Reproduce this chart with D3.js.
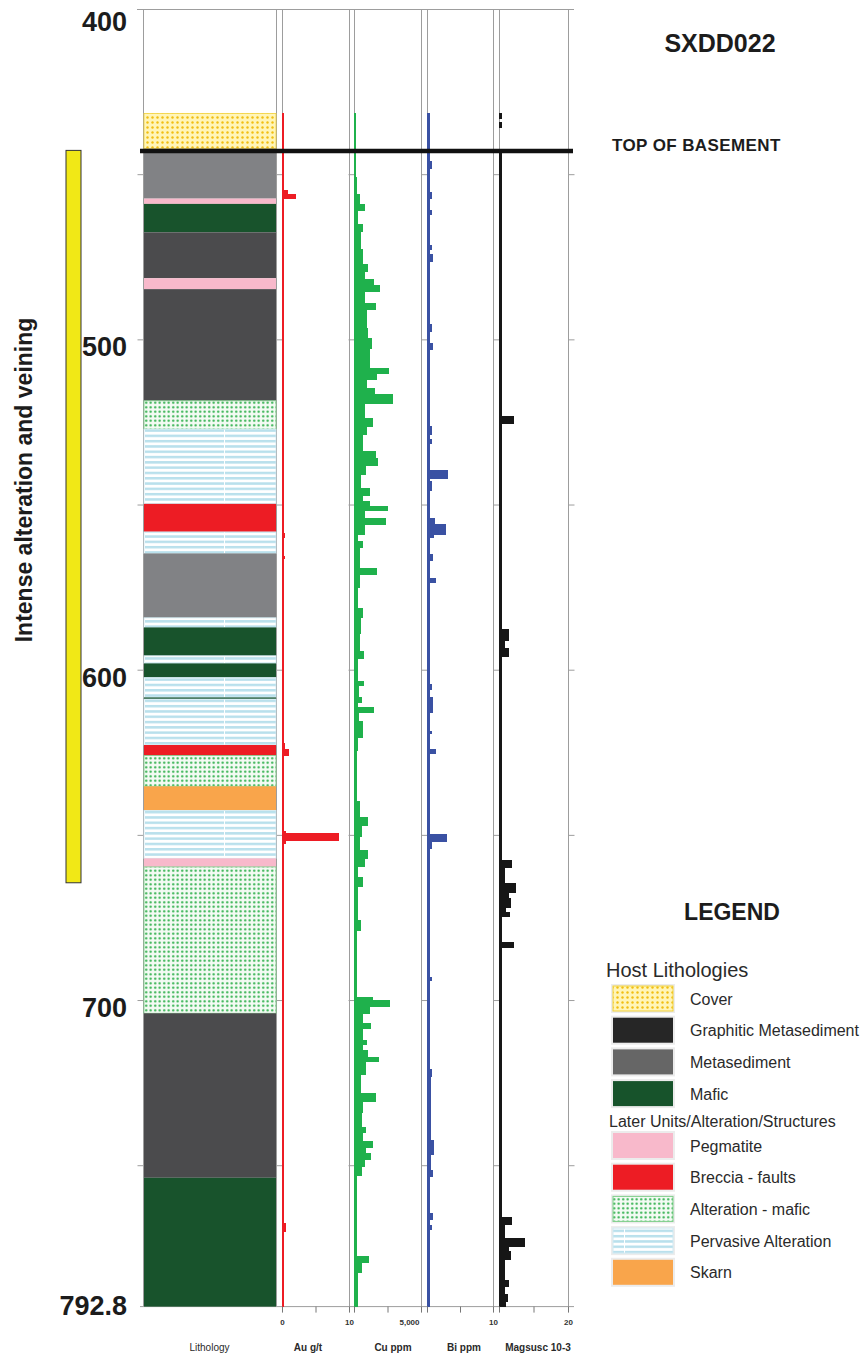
<!DOCTYPE html>
<html>
<head>
<meta charset="utf-8">
<title>SXDD022 drill log</title>
<script src="https://d3js.org/d3.v7.min.js"></script>
<style>
  body { margin: 0; background: #fff; }
  text { font-family: "Liberation Sans", Arial, sans-serif; }
</style>
</head>
<body>
<script>
// ---- data (depths in metres down hole) ----
var holeName = "SXDD022";
var depthLabels = [400, 500, 600, 700, 792.8];
var basementDepth = 443.0;
var alterationZone = [442.8, 664.5];

// lithology intervals: breaks[i] -> breaks[i+1] has code[i]
var lithBreaks = [431.6, 442.3, 457.4, 459, 467.6, 481.5, 484.8, 518.6, 527.2, 549.8, 558.3, 564.8, 584.3, 587.2,
  595.8, 598.1, 602.4, 608.4, 608.9, 622.8, 626, 635.3, 642.6, 657.1, 659.7, 704, 753.8, 792.8];
var lithCodes = ["cover", "meta", "peg", "mafic", "graph", "peg", "graph", "alt", "perv", "brec", "perv", "meta", "perv",
  "mafic", "perv", "mafic", "perv", "mafic", "perv", "brec", "alt", "skarn", "perv", "peg", "alt", "graph", "mafic"];

// Au g/t
var auBreaks = [431.6, 454.7, 455.9, 457.4, 558.6, 560.1, 565.6, 566.5, 622.3, 623.9, 626, 648.8, 649.5, 651.7, 652.7, 767.4, 770.1, 792.8];
var auValues = [0.3, 0.9, 2.1, 0.3, 0.45, 0.3, 0.45, 0.3, 0.5, 1.05, 0.3, 0.6, 8.5, 0.6, 0.3, 0.6, 0.3];

// Cu ppm
var cuBreaks = [431.6, 451, 456, 459, 461, 465, 467.5, 472.5, 477.3, 479.5, 481.6, 483.4, 485.5, 489.1, 490.9, 496.7,
  499.7, 502.7, 508.8, 510.3, 512.1, 514.8, 516.6, 519.4, 523.8, 526.3, 528.8, 533.8, 536, 538.4, 540.9, 544.9,
  547.4, 548.9, 550.5, 552, 554, 556, 559, 561, 563, 569.1, 571.1, 575.1, 581.2, 584.2, 589.2, 594.3, 596.8,
  603.3, 604.8, 608.4, 609.9, 611.4, 612.9, 615.4, 620.5, 624.5, 633.5, 639.6, 644.6, 647.1, 650.7, 654.7,
  657.2, 659.7, 662.8, 665.8, 675.8, 678.9, 699, 700, 702, 704, 707, 708.6, 712.1, 713.6, 715.1, 717.1, 718.7,
  722.7, 728.2, 730.7, 734.2, 738.3, 740.3, 742.8, 744.8, 746.3, 748.3, 750.3, 753.3, 777.6, 779.6, 782.6, 792.8];
var cuValues = [150, 220, 450, 830, 300, 680, 530, 680, 1050, 830, 1500, 1950, 830, 1650, 980, 1050, 1350, 1200,
  2630, 1730, 980, 1580, 2930, 830, 1430, 980, 680, 1650, 1800, 900, 530, 1200, 680, 1200, 2550, 830, 2400, 830,
  300, 680, 450, 1730, 450, 300, 680, 530, 450, 750, 300, 750, 380, 600, 300, 1500, 380, 680, 300, 190, 220, 450,
  1050, 600, 450, 1050, 830, 300, 680, 300, 530, 220, 1430, 2700, 1200, 680, 1280, 680, 980, 680, 1050, 1880, 900,
  530, 1650, 680, 600, 900, 680, 1430, 900, 1280, 830, 600, 220, 1130, 600, 300];

// Bi ppm
var biBreaks = [431.6, 446, 448.3, 455.3, 457.4, 460.7, 462.2, 471.3, 472.8, 474.3, 476.4, 495.5, 497.6, 501.2, 503,
  526.3, 528.8, 530.2, 531.7, 539.6, 542.1, 542.9, 545.9, 554, 556, 559, 560, 565, 567, 572.2, 573.7, 604.3, 606,
  608.4, 612.9, 618.5, 619.5, 624, 625.5, 649.6, 652.2, 654.2, 693, 694, 721, 723.1, 742.3, 746.8, 751.4, 753.5,
  764.4, 766.5, 768, 769.5, 792.8];
var biValues = [0.5, 0.8, 0.5, 0.8, 0.5, 0.8, 0.5, 0.7, 0.5, 0.9, 0.5, 0.8, 0.5, 0.9, 0.5, 0.7, 0.5, 0.8,
  0.5, 3.2, 0.5, 0.7, 0.5, 1.2, 2.9, 1.0, 0.5, 0.9, 0.5, 1.4, 0.5, 0.7, 0.5, 0.9, 0.5, 0.7, 0.5, 1.4, 0.5,
  3.1, 0.7, 0.5, 0.7, 0.5, 0.8, 0.55, 1.1, 0.55, 0.9, 0.5, 0.9, 0.5, 0.7, 0.5];

// Magnetic susceptibility 10-3 SI
var magBreaks = [431.6, 433.3, 434.1, 436, 443.3, 523.3, 525.4, 587.6, 591.2, 593.3, 596, 657.7, 659.8, 664.6, 667.4,
  669.2, 672, 673.4, 674.9, 682.5, 684.3, 765.6, 768, 771.9, 774.6, 776.1, 778.5, 784.6, 786.7, 789.1, 791.2, 792.8];
var magValues = [10.4, 10, 10.4, 10, 10.4, 12.2, 10.4, 11.4, 10.9, 11.5, 10.4, 11.9, 10.8, 12.4, 11.4, 11.8, 11.0,
  11.6, 10.5, 12.2, 10.4, 11.9, 10.8, 13.7, 11.4, 11.8, 10.9, 11.5, 10.9, 11.3, 11.0];

// legend
var hostCodes = ["cover", "graph", "meta", "mafic"];
var hostNames = ["Cover", "Graphitic Metasediment", "Metasediment", "Mafic"];
var laterCodes = ["peg", "brec", "alt", "perv", "skarn"];
var laterNames = ["Pegmatite", "Breccia - faults", "Alteration - mafic", "Pervasive Alteration", "Skarn"];

// ---- drawing ----
var width = 865, height = 1353;
var svg = d3.select("body").append("svg").attr("width", width).attr("height", height);

var y = d3.scaleLinear().domain([400, 792.8]).range([9, 1306.6]);
var lithX = [143, 276];
var auX = d3.scaleLinear().domain([0, 10]).range([282, 349]);
var cuX = d3.scaleLinear().domain([0, 5000]).range([354, 421]);
var biX = d3.scaleLinear().domain([0, 10]).range([427, 493]);
var magX = d3.scaleLinear().domain([10, 20]).range([499, 568]);

// patterns
var defs = svg.append("defs");
var pCover = defs.append("pattern").attr("id", "p-cover").attr("patternUnits", "userSpaceOnUse")
  .attr("width", 5).attr("height", 5);
pCover.append("rect").attr("width", 5).attr("height", 5).attr("fill", "#fff5b8");
pCover.append("circle").attr("cx", 2.5).attr("cy", 2.5).attr("r", 1.2).attr("fill", "#f2be10");

var pAlt = defs.append("pattern").attr("id", "p-alt").attr("patternUnits", "userSpaceOnUse")
  .attr("width", 4.5).attr("height", 4.5);
pAlt.append("rect").attr("width", 4.5).attr("height", 4.5).attr("fill", "#f4fbf4");
pAlt.append("circle").attr("cx", 2.2).attr("cy", 2.2).attr("r", 1.15).attr("fill", "#2aae48");

var pPerv = defs.append("pattern").attr("id", "p-perv").attr("patternUnits", "userSpaceOnUse")
  .attr("x", 144).attr("width", 80).attr("height", 5.3);
pPerv.append("rect").attr("width", 80).attr("height", 5.3).attr("fill", "#ffffff");
pPerv.append("rect").attr("y", 0).attr("width", 80).attr("height", 2.5).attr("fill", "#b9e0ec");
pPerv.append("rect").attr("x", 0).attr("width", 1).attr("height", 5.3).attr("fill", "#ffffff");

var lithFill = {
  cover: "url(#p-cover)", graph: "#4b4b4d", meta: "#818285", mafic: "#18532c", peg: "#f8b9cb",
  brec: "#ed1c24", alt: "url(#p-alt)", perv: "url(#p-perv)", skarn: "#f9a54b"
};
var legendFill = Object.assign({}, lithFill, { graph: "#262626", meta: "#666666", mafic: "#17532b" });
var lithStroke = { cover: "#f2d13a", alt: "#7fcf8a", perv: "#cfe9f2" };

function intervals(breaks, values) {
  return values.map(function(v, i) {
    return { from: breaks[i], to: breaks[i + 1], value: v };
  });
}

// frame lines
var grid = svg.append("g").attr("stroke", "#9d9d9d").attr("stroke-width", 1);
var colEdges = [lithX[0], lithX[1], auX.range()[0], auX.range()[1], cuX.range()[0], cuX.range()[1],
  biX.range()[0], biX.range()[1], magX.range()[0], magX.range()[1]];
grid.selectAll("line.v").data(colEdges).enter().append("line")
  .attr("x1", function(d) { return d + 0.5; }).attr("x2", function(d) { return d + 0.5; })
  .attr("y1", y(400)).attr("y2", y(792.8));
grid.append("line").attr("x1", 137).attr("x2", 574).attr("y1", y(400) + 0.5).attr("y2", y(400) + 0.5);
grid.append("line").attr("x1", 140).attr("x2", 574).attr("y1", y(792.8)).attr("y2", y(792.8));

// depth ticks every 50 m on each column
var tickDepths = [450, 500, 550, 600, 650, 700, 750];
[lithX[0], auX.range()[0], cuX.range()[0], biX.range()[0], magX.range()[0]].forEach(function(x0) {
  var g = svg.append("g").attr("transform", "translate(" + (x0 + 0.5) + ",0)")
    .call(d3.axisLeft(y).tickValues(tickDepths).tickSize(6).tickFormat(""));
  g.select(".domain").remove();
  g.selectAll("line").attr("stroke", "#9d9d9d");
});
var gr = svg.append("g").attr("transform", "translate(" + (magX.range()[1] + 0.5) + ",0)")
  .call(d3.axisRight(y).tickValues(tickDepths).tickSize(6).tickFormat(""));
gr.select(".domain").remove();
gr.selectAll("line").attr("stroke", "#9d9d9d");

// lithology column
svg.append("g").selectAll("rect")
  .data(intervals(lithBreaks, lithCodes))
  .enter().append("rect")
  .attr("x", lithX[0] + 1)
  .attr("y", function(d) { return y(d.from); })
  .attr("width", lithX[1] - lithX[0] - 1)
  .attr("height", function(d) { return y(d.to) - y(d.from); })
  .attr("fill", function(d) { return lithFill[d.value]; })
  .attr("stroke", function(d) { return lithStroke[d.value] || "none"; })
  .attr("stroke-width", 0.8);

// assay / magsus bars
function drawSeries(breaks, values, x, color) {
  var x0 = x(x.domain()[0]);
  svg.append("g").attr("shape-rendering", "crispEdges").selectAll("rect")
    .data(intervals(breaks, values))
    .enter().append("rect")
    .attr("x", x0)
    .attr("y", function(d) { return y(d.from); })
    .attr("width", function(d) { return Math.max(0, x(d.value) - x0); })
    .attr("height", function(d) { return y(d.to) - y(d.from) + 0.3; })
    .attr("fill", color);
}
drawSeries(auBreaks, auValues, auX, "#ed1c24");
drawSeries(cuBreaks, cuValues, cuX, "#1fb14c");
drawSeries(biBreaks, biValues, biX, "#3a51a3");
drawSeries(magBreaks, magValues, magX, "#161616");

// top of basement
svg.append("line").attr("x1", 140).attr("x2", 573)
  .attr("y1", y(basementDepth)).attr("y2", y(basementDepth))
  .attr("stroke", "#111").attr("stroke-width", 4.5);
svg.append("text").attr("x", 612).attr("y", y(basementDepth))
  .attr("font-size", 17).attr("font-weight", "bold").attr("letter-spacing", 0.4)
  .attr("fill", "#1c1c1c").text("TOP OF BASEMENT");

// hole name
svg.append("text").attr("x", 720).attr("y", 52).attr("text-anchor", "middle")
  .attr("font-size", 25).attr("font-weight", "bold").attr("fill", "#1c1c1c").text(holeName);

// depth labels
svg.append("g").selectAll("text").data(depthLabels).enter().append("text")
  .attr("x", 127)
  .attr("y", function(d) { return Math.max(22, Math.min(1306, y(d) + 8)); })
  .attr("text-anchor", "end").attr("dominant-baseline", "central")
  .attr("font-size", 27).attr("font-weight", "bold").attr("fill", "#1c1c1c")
  .text(function(d) { return d; });

// intense alteration bar
svg.append("rect").attr("x", 66).attr("y", y(alterationZone[0]))
  .attr("width", 15).attr("height", y(alterationZone[1]) - y(alterationZone[0]))
  .attr("fill", "#f1e816").attr("stroke", "#333").attr("stroke-width", 1);
svg.append("text").attr("transform", "translate(24,480) rotate(-90)")
  .attr("text-anchor", "middle").attr("dominant-baseline", "central")
  .attr("font-size", 23).attr("font-weight", "bold").attr("fill", "#1c1c1c")
  .text("Intense alteration and veining");

// bottom axes
function bottomAxis(x, ticks, fmt) {
  var g = svg.append("g").attr("transform", "translate(0," + y(792.8) + ")")
    .call(d3.axisBottom(x).tickValues(ticks).tickSize(6).tickPadding(7).tickFormat(fmt));
  g.select(".domain").remove();
  g.selectAll("line").attr("stroke", "#777");
  g.selectAll("text").attr("font-size", 8).attr("font-weight", "bold").attr("fill", "#333")
    .style("font-family", "'Liberation Sans', Arial, sans-serif");
  return g;
}
bottomAxis(auX, [0, 5, 10], function(d) { return d === 5 ? "" : d; });
bottomAxis(cuX, [0, 2500, 5000], function(d) { return d === 5000 ? "5,000" : ""; })
  .selectAll("text").attr("text-anchor", "end").attr("dx", -2);
bottomAxis(biX, [0, 5, 10], function(d) { return d === 10 ? d : ""; });
bottomAxis(magX, [10, 15, 20], function(d) { return d === 20 ? d : ""; });

var colTitles = [
  { x: (lithX[0] + lithX[1]) / 2, t: "Lithology", w: "normal" },
  { x: 308, t: "Au g/t", w: "bold" },
  { x: 393, t: "Cu ppm", w: "bold" },
  { x: 464, t: "Bi ppm", w: "bold" },
  { x: 538, t: "Magsusc 10-3", w: "bold" }
];
svg.append("g").selectAll("text").data(colTitles).enter().append("text")
  .attr("x", function(d) { return d.x; }).attr("y", 1347)
  .attr("text-anchor", "middle").attr("dominant-baseline", "central")
  .attr("font-size", 10).attr("font-weight", function(d) { return d.w; }).attr("fill", "#2a2a2a")
  .text(function(d) { return d.t; });

// legend
var lg = svg.append("g");
lg.append("text").attr("x", 732).attr("y", 920).attr("text-anchor", "middle")
  .attr("font-size", 23).attr("font-weight", "bold").attr("fill", "#1c1c1c").text("LEGEND");
lg.append("text").attr("x", 606).attr("y", 977).attr("font-size", 20).attr("fill", "#2a2a2a").text("Host Lithologies");
lg.append("text").attr("x", 609).attr("y", 1127).attr("font-size", 16).attr("fill", "#2a2a2a")
  .text("Later Units/Alteration/Structures");

function legendBlock(codes, names, top) {
  var items = codes.map(function(c, i) { return { code: c, name: names[i], y: top + i * 31.7 }; });
  var g = lg.append("g").selectAll("g").data(items).enter().append("g");
  g.append("rect").attr("x", 611).attr("y", function(d) { return d.y - 2; })
    .attr("width", 64).attr("height", 29).attr("fill", "#ececec");
  g.append("rect").attr("x", 613).attr("y", function(d) { return d.y; })
    .attr("width", 60).attr("height", 25)
    .attr("fill", function(d) { return legendFill[d.code]; })
    .attr("stroke", function(d) { return lithStroke[d.code] || "none"; }).attr("stroke-width", 1);
  g.append("text").attr("x", 690).attr("y", function(d) { return d.y + 13; })
    .attr("dominant-baseline", "central").attr("font-size", 16).attr("fill", "#2a2a2a")
    .text(function(d) { return d.name; });
}
legendBlock(hostCodes, hostNames, 986);
legendBlock(laterCodes, laterNames, 1133);
</script>
</body>
</html>
